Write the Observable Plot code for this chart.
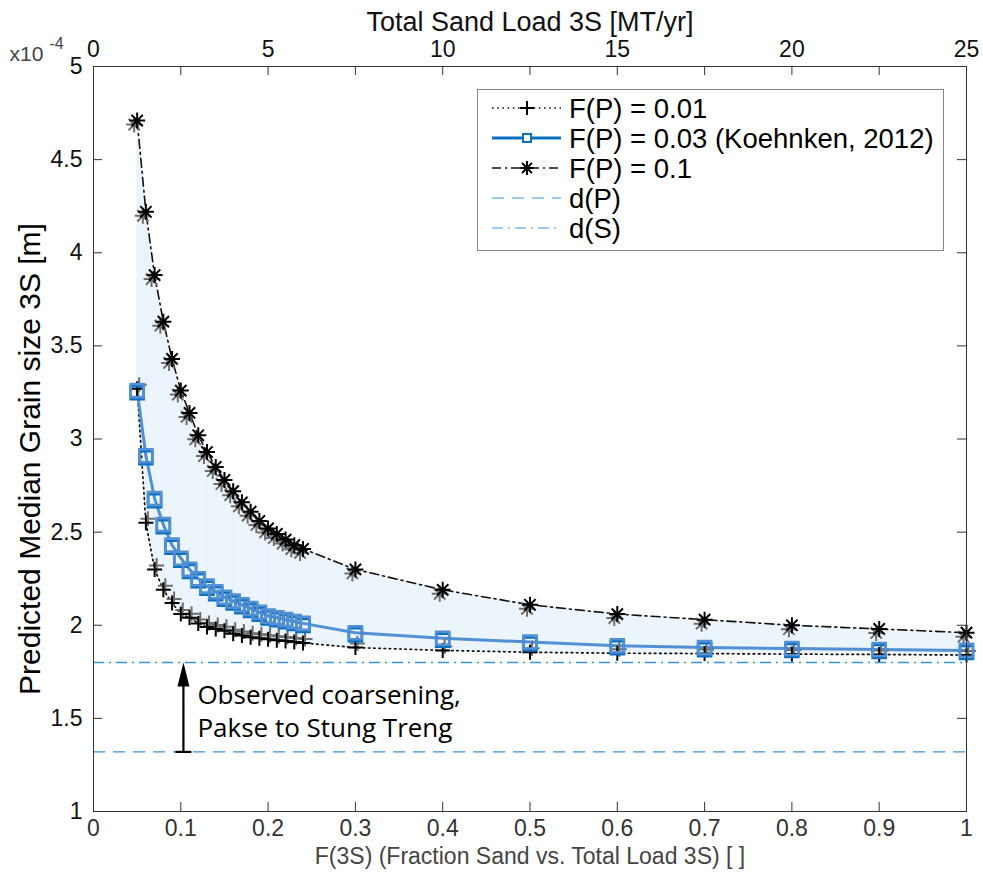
<!DOCTYPE html>
<html><head><meta charset="utf-8">
<script src="https://cdn.jsdelivr.net/npm/d3@7"></script>
<script src="https://cdn.jsdelivr.net/npm/@observablehq/plot@0.6"></script>
<style>
body{margin:0;background:#fff;}
#wrap{position:relative;width:983px;height:876px;}
#legend{position:absolute;left:477px;top:89px;}
</style></head><body><div id="wrap"></div>
<script>
// ---- data (grain size in units of 1e-4 m) ----
const fractionSand = [0.05,0.06,0.07,0.08,0.09,0.10,0.11,0.12,0.13,0.14,0.15,0.16,0.17,0.18,0.19,0.20,0.21,0.22,0.23,0.24,0.3,0.4,0.5,0.6,0.7,0.8,0.9,1.0];
const grainFP001 = [3.27,2.55,2.30,2.19,2.12,2.06,2.04,2.01,1.99,1.98,1.97,1.955,1.945,1.935,1.93,1.925,1.92,1.915,1.91,1.905,1.88,1.865,1.855,1.85,1.848,1.845,1.843,1.84];
const grainFP003 = [3.26,2.91,2.68,2.54,2.43,2.36,2.30,2.25,2.21,2.18,2.15,2.13,2.11,2.09,2.07,2.05,2.04,2.03,2.02,2.01,1.96,1.93,1.91,1.89,1.88,1.875,1.87,1.865];
const grainFP010 = [4.71,4.22,3.88,3.63,3.43,3.26,3.14,3.02,2.93,2.85,2.78,2.72,2.66,2.61,2.56,2.52,2.49,2.46,2.43,2.41,2.30,2.19,2.11,2.06,2.03,2.00,1.98,1.96];
const dP = 1.32;   // d(P)
const dS = 1.80;   // d(S)
const xTicks = [0,0.1,0.2,0.3,0.4,0.5,0.6,0.7,0.8,0.9,1];
const yTicks = [1,1.5,2,2.5,3,3.5,4,4.5,5];
const sandLoadTicks = [0,5,10,15,20,25];
const sandLoadMax = 25;
const legendLabels = ["F(P) = 0.01","F(P) = 0.03 (Koehnken, 2012)","F(P) = 0.1","d(P)","d(S)"];
const xTitle = "F(3S) (Fraction Sand vs. Total Load 3S) [ ]";
const x2Title = "Total Sand Load 3S [MT/yr]";
const yTitle = "Predicted Median Grain size 3S [m]";
const annotationLines = "Observed coarsening,\nPakse to Stung Treng";
const annotationX = 0.103;
const annotationTextX = 0.119;
const annotationTextY = 1.545;

// ---- styling ----
const FONT = "'Liberation Sans', Arial, Helvetica, sans-serif";
const blueLine = "#5290d3", blueDark = "#0a6fbf", refBlue = "#3a93dc";
const W = 983, H = 876, mL = 93, mR = 17, mT = 66, mB = 65;
const frameW = W - mL - mR, frameH = H - mT - mB, tk = 9;

const rows = fractionSand.map((x, i) => ({x, p01: grainFP001[i], p03: grainFP003[i], p10: grainFP010[i]}));

const sym = {
  plus: {draw(c, s){ const r = Math.sqrt(s/Math.PI); c.moveTo(-r,0); c.lineTo(r,0); c.moveTo(0,-r); c.lineTo(0,r); }},
  star: {draw(c, s){ const r = Math.sqrt(s/Math.PI), d = r*Math.SQRT1_2;
    c.moveTo(-r,0); c.lineTo(r,0); c.moveTo(0,-r); c.lineTo(0,r);
    c.moveTo(-d,-d); c.lineTo(d,d); c.moveTo(-d,d); c.lineTo(d,-d); }},
  square: {draw(c, s){ const r = Math.sqrt(s/Math.PI); c.rect(-r,-r,2*r,2*r); }},
  head: {draw(c, s){ c.moveTo(0,0); c.lineTo(-6,24); c.lineTo(6,24); c.closePath(); }},
  bar: {draw(c, s){ c.moveTo(-8,0); c.lineTo(8,0); }}
};
const fmt = d => String(+d.toFixed(2));

const chart = Plot.plot({
  width: W, height: H,
  marginTop: mT, marginLeft: mL, marginRight: mR, marginBottom: mB,
  style: {fontFamily: FONT, fontSize: "23px", color: "#262626", background: "white", overflow: "visible"},
  x: {domain: [0, 1]},
  y: {domain: [1, 5]},
  marks: [
    Plot.areaY(rows, {x: "x", y1: "p01", y2: "p10", fill: "#ecf4fc"}),
    Plot.ruleX(rows, {x: "x", y1: "p01", y2: "p10", stroke: "#e1edf9", strokeWidth: 0.5}),
    Plot.ruleY([dP], {stroke: refBlue, strokeWidth: 1.3, strokeDasharray: "12,8"}),
    Plot.ruleY([dS], {stroke: refBlue, strokeWidth: 1.3, strokeDasharray: "11,5,2,5"}),
    Plot.line(rows, {x: "x", y: "p01", stroke: "#111", strokeWidth: 1.7, strokeDasharray: "1.6,3.6"}),
    Plot.line(rows, {x: "x", y: "p10", stroke: "#111", strokeWidth: 1.6, strokeDasharray: "9,4,2,4"}),
    Plot.line(rows, {x: "x", y: "p03", stroke: blueLine, strokeWidth: 3}),
    // markers (shadow + main)
    Plot.dot(rows, {x: "x", y: "p01", symbol: sym.plus, r: 7.5, stroke: "#6e6e6e", strokeWidth: 2, fill: "none", dx: 2, dy: -4}),
    Plot.dot(rows, {x: "x", y: "p01", symbol: sym.plus, r: 7.5, stroke: "#000", strokeWidth: 2, fill: "none"}),
    Plot.dot(rows, {x: "x", y: "p10", symbol: sym.star, r: 8, stroke: "#6e6e6e", strokeWidth: 2, fill: "none", dx: -3, dy: 4}),
    Plot.dot(rows, {x: "x", y: "p10", symbol: sym.star, r: 8, stroke: "#000", strokeWidth: 2, fill: "none"}),
    Plot.dot(rows, {x: "x", y: "p03", symbol: sym.square, r: 6.5, stroke: blueDark, strokeWidth: 2.6, fill: "none", dy: 2}),
    Plot.dot(rows, {x: "x", y: "p03", symbol: sym.square, r: 6.5, stroke: blueLine, strokeWidth: 2.6, fill: "none"}),
    // annotation
    Plot.ruleX([annotationX], {x: d => d, y1: dS, y2: dP, stroke: "#000", strokeWidth: 2.2, insetTop: 20}),
    Plot.dot([annotationX], {x: d => d, y: dS, symbol: sym.head, r: 5, fill: "#000", stroke: "none"}),
    Plot.dot([annotationX], {x: d => d, y: dP, symbol: sym.bar, r: 5, stroke: "#000", strokeWidth: 2.2, fill: "none"}),
    Plot.text([annotationLines], {x: annotationTextX, y: annotationTextY, text: d => d, textAnchor: "start", lineAnchor: "middle", lineHeight: 1.27, fontSize: 26, fontFamily: "'Open Sans', 'Noto Sans', sans-serif", fill: "#000"}),
    // frame and inward ticks
    Plot.frame({stroke: "#333", strokeWidth: 1}),
    Plot.tickX(xTicks, {x: d => d, stroke: "#333", insetTop: frameH - tk}),
    Plot.tickX(xTicks, {x: d => d, stroke: "#333", insetBottom: frameH - tk}),
    Plot.tickY(yTicks, {y: d => d, stroke: "#333", insetRight: frameW - tk}),
    Plot.tickY(yTicks, {y: d => d, stroke: "#333", insetLeft: frameW - tk}),
    // axes labels
    Plot.axisX(xTicks, {anchor: "bottom", tickSize: 0, tickPadding: 8, tickFormat: fmt, fill: "#333", label: null}),
    Plot.axisX(sandLoadTicks.map(t => t / sandLoadMax), {anchor: "top", tickSize: 0, tickPadding: 10, tickFormat: d => String(Math.round(d * sandLoadMax)), fill: "#111", label: null}),
    Plot.axisY(yTicks, {anchor: "left", tickSize: 0, tickPadding: 11, tickFormat: fmt, fill: "#111", label: null}),
    Plot.text([xTitle], {frameAnchor: "bottom", dy: 52, fontSize: 23, fill: "#444"}),
    Plot.text([x2Title], {frameAnchor: "top", dy: -55, fontSize: 27, fill: "#111"}),
    Plot.text([yTitle], {frameAnchor: "left", textAnchor: "middle", dx: -63, dy: 20, rotate: -90, fontSize: 30, fill: "#000"}),
    Plot.text(["x10"], {frameAnchor: "top-left", dx: -84, dy: -20, textAnchor: "start", fontSize: 21, fill: "#444"}),
    Plot.text(["-4"], {frameAnchor: "top-left", dx: -44, dy: -29, textAnchor: "start", fontSize: 16, fill: "#444"})
  ]
});

const wrap = document.getElementById("wrap");
wrap.appendChild(chart);

// ---- legend ----
const LW = 467, LH = 162;
const lg = d3.create("svg").attr("id", "legend").attr("width", LW).attr("height", LH)
  .style("font-family", FONT).style("font-size", "27.5px");
lg.append("rect").attr("x", 0.5).attr("y", 0.5).attr("width", LW - 1).attr("height", LH - 1)
  .attr("fill", "white").attr("stroke", "#888").attr("stroke-width", 1);
const sample = [
  {stroke: "#111", width: 1.5, dash: "1.6,3.6", marker: "plus", mstroke: "#000"},
  {stroke: blueDark, width: 3, dash: null, marker: "square", mstroke: blueDark},
  {stroke: "#111", width: 1.6, dash: "9,4,2,4", marker: "star", mstroke: "#000"},
  {stroke: refBlue, width: 1.2, dash: "12,8", marker: null},
  {stroke: refBlue, width: 1.2, dash: "11,5,2,5", marker: null}
];
legendLabels.forEach((label, i) => {
  const y = 19 + i * 30, s = sample[i];
  const g = lg.append("g");
  g.append("line").attr("x1", 15).attr("x2", 84).attr("y1", y).attr("y2", y)
    .attr("stroke", s.stroke).attr("stroke-width", s.width).attr("stroke-dasharray", s.dash);
  if (s.marker) {
    const p = d3.path();
    const area = (s.marker === "square" ? 4 : 7) ** 2 * Math.PI;
    sym[s.marker].draw(p, area);
    g.append("path").attr("d", p.toString()).attr("transform", `translate(50,${y})`)
      .attr("fill", s.marker === "square" ? "white" : "none").attr("stroke", s.mstroke).attr("stroke-width", 2);
  }
  g.append("text").attr("x", 92).attr("y", y).attr("dy", "0.36em").attr("fill", "#000").text(label);
});
wrap.appendChild(lg.node());
</script>
</body></html>
